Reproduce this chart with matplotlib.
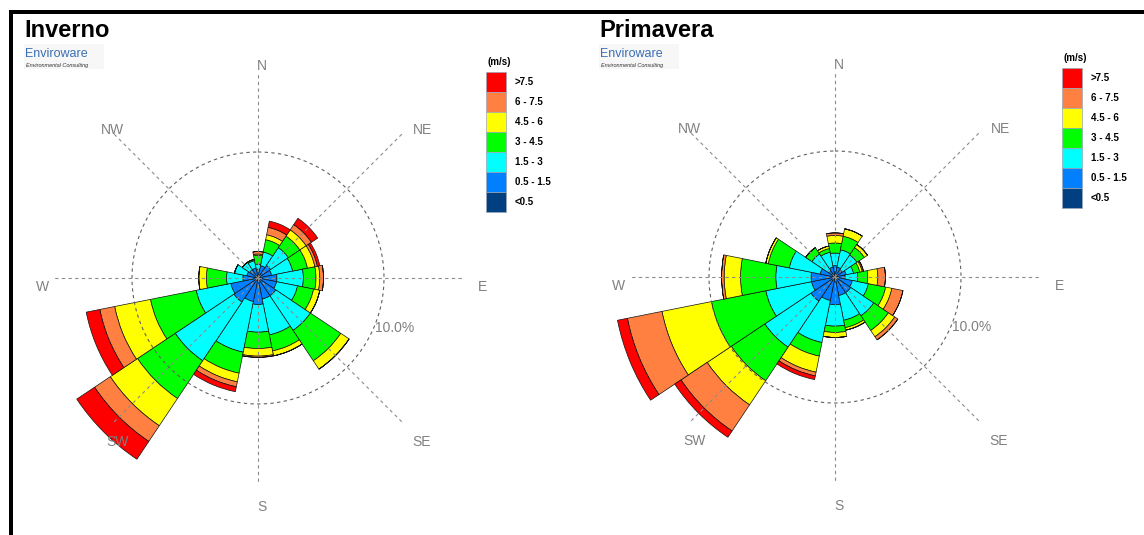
import numpy as np
import matplotlib.pyplot as plt
from matplotlib.patches import Rectangle

plt.rcParams['font.family'] = ['Liberation Sans', 'DejaVu Sans']

W, H = 1144, 535

directions = ['N', 'NNE', 'NE', 'ENE', 'E', 'ESE', 'SE', 'SSE',
              'S', 'SSW', 'SW', 'WSW', 'W', 'WNW', 'NW', 'NNW']
classes = ['<0.5', '0.5 - 1.5', '1.5 - 3', '3 - 4.5', '4.5 - 6', '6 - 7.5', '>7.5']
colors = ['#004080', '#0080FF', '#00FFFF', '#00FF00', '#FFFF00', '#FF8040', '#FF0000']

# frequency (%) per speed class (rows) and direction (columns)
inverno = [
    [0.2] * 16,
    [0.5, 0.8, 1.0, 0.9, 1.3, 1.3, 1.5, 1.5, 1.9, 1.7, 2.1, 2.0, 1.0, 0.7, 0.6, 0.6],
    [0.4, 1.1, 1.7, 1.7, 2.1, 1.7, 3.3, 2.9, 2.2, 4.1, 5.6, 2.8, 1.3, 1.0, 0.7, 0.6],
    [0.7, 1.0, 1.1, 1.2, 1.0, 1.3, 2.9, 1.3, 1.3, 1.7, 3.6, 3.7, 1.6, 0.0, 0.0, 0.1],
    [0.1, 0.4, 0.6, 0.6, 0.3, 0.5, 0.8, 0.4, 0.6, 0.7, 2.6, 2.9, 0.6, 0.0, 0.0, 0.0],
    [0.2, 0.6, 0.5, 0.2, 0.3, 0.0, 0.0, 0.0, 0.1, 0.4, 1.5, 1.2, 0.0, 0.0, 0.0, 0.0],
    [0.0, 0.5, 0.6, 0.2, 0.0, 0.0, 0.0, 0.0, 0.0, 0.4, 1.7, 1.1, 0.0, 0.0, 0.0, 0.0],
]
primavera = [
    [0.2] * 16,
    [0.7, 0.6, 0.5, 0.7, 0.6, 1.2, 1.3, 1.3, 2.0, 1.7, 2.1, 1.7, 1.7, 1.0, 0.4, 0.6],
    [1.0, 1.4, 1.4, 0.6, 1.0, 1.3, 2.2, 2.0, 1.7, 3.4, 4.4, 3.7, 2.8, 2.5, 1.6, 1.2],
    [0.8, 1.1, 0.7, 0.5, 0.8, 1.4, 1.4, 0.6, 0.5, 1.1, 3.2, 4.4, 2.8, 1.7, 0.6, 0.3],
    [0.6, 0.6, 0.3, 0.2, 0.8, 0.5, 0.6, 0.2, 0.4, 1.3, 2.3, 4.0, 1.3, 0.2, 0.0, 0.2],
    [0.2, 0.0, 0.0, 0.1, 0.6, 0.9, 0.3, 0.0, 0.0, 0.3, 2.5, 2.8, 0.2, 0.0, 0.0, 0.0],
    [0.0, 0.0, 0.0, 0.0, 0.0, 0.0, 0.0, 0.0, 0.0, 0.3, 0.6, 0.8, 0.0, 0.0, 0.0, 0.0],
]

RMAX = 18.0
PX_PER_PCT = 12.6
GRAY = '#808080'


def fx(x):
    return x / W


def fy(y):
    return 1 - y / H


fig = plt.figure(figsize=(W / 100, H / 100), dpi=100)


def rose(data, cx, cy, title, tx, legx, legy):
    rad = RMAX * PX_PER_PCT
    ax = fig.add_axes([fx(cx - rad), fy(cy + rad), 2 * rad / W, 2 * rad / H],
                      projection='polar')
    ax.set_theta_zero_location('N')
    ax.set_theta_direction(-1)
    ax.set_rlim(0, RMAX)
    ax.axis('off')

    theta = np.deg2rad(np.arange(16) * 22.5)
    bottom = np.zeros(16)
    for vals, c in zip(data, colors):
        v = np.array(vals)
        ax.bar(theta, v, width=2 * np.pi / 16, bottom=bottom, color=c,
               edgecolor='#111111', linewidth=0.5, zorder=3, clip_on=False)
        bottom += v

    # guide lines and 10% circle, drawn over the wedges
    for a in np.deg2rad(np.arange(0, 360, 45)):
        ax.plot([a, a], [0, 16.2], color='#8c8c8c', lw=0.8, ls=(0, (3, 3)), zorder=5)
    t = np.linspace(0, 2 * np.pi, 300)
    ax.plot(t, np.full_like(t, 10.0), color='#606060', lw=0.8, ls=(0, (3, 3)), zorder=5)

    # direction labels
    labs = {'N': (4, -212), 'NE': (165, -148), 'E': (224, 9), 'SE': (164, 164),
            'S': (4, 229), 'SW': (-140, 164), 'W': (-216, 9), 'NW': (-146, -148)}
    for k, (dx, dy) in labs.items():
        fig.text(fx(cx + dx), fy(cy + dy), k, color=GRAY, fontsize=10,
                 ha='center', va='center')
    fig.text(fx(cx + 137), fy(cy + 50), '10.0%', color=GRAY, fontsize=10,
             ha='center', va='center')

    # title and logo
    fig.text(fx(tx), fy(37), title, fontsize=17, fontweight='bold', va='baseline')
    fig.add_artist(Rectangle((fx(tx), fy(69)), 80 / W, 25 / H, facecolor='#f7f7f7',
                             edgecolor='none', transform=fig.transFigure))
    fig.text(fx(tx + 1), fy(54), 'Enviroware', color='#3a6fb5', fontsize=9,
             va='center')
    fig.text(fx(tx + 2), fy(65), 'Environmental Consulting', color='#333333',
             fontsize=4, style='italic', va='center')

    # legend
    fig.text(fx(legx + 1), fy(legy - 10), '(m/s)', fontsize=7, fontweight='bold',
             va='center')
    for i, (lab, c) in enumerate(zip(classes[::-1], colors[::-1])):
        y0 = legy + 20 * i
        fig.add_artist(Rectangle((fx(legx), fy(y0 + 20)), 20 / W, 20 / H,
                                 facecolor=c, edgecolor='#9aa7b8', lw=0.5,
                                 transform=fig.transFigure))
        fig.text(fx(legx + 29), fy(y0 + 10), lab, fontsize=7, fontweight='bold',
                 va='center')


rose(inverno, 258, 278, 'Inverno', 24, 486, 72)
rose(primavera, 835, 277, 'Primavera', 599, 1062, 68)

# frame
fig.add_artist(Rectangle((fx(9), fy(14)), 1 - fx(9), 4 / H, facecolor='black',
                         edgecolor='none', transform=fig.transFigure))
fig.add_artist(Rectangle((fx(9), 0), 4 / W, fy(10), facecolor='black',
                         edgecolor='none', transform=fig.transFigure))

fig.savefig('out.png', dpi=100)
